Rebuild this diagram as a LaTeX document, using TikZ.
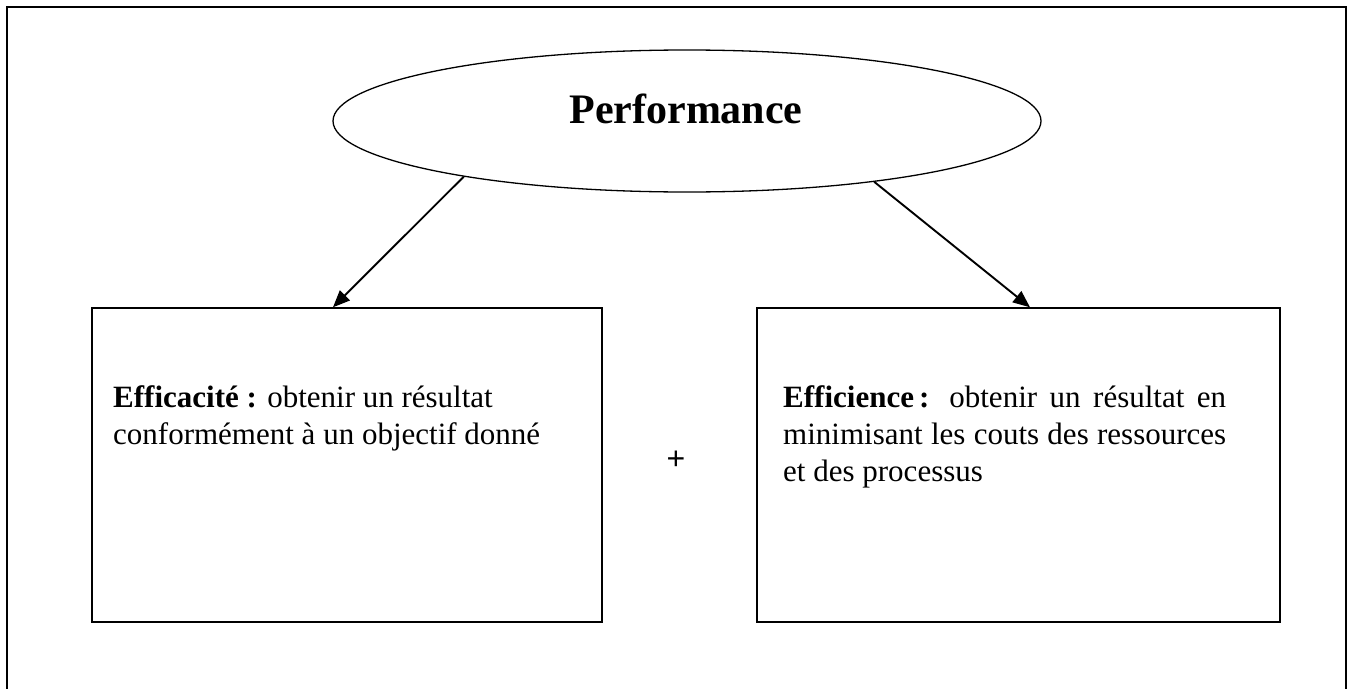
\documentclass[tikz,border=0pt]{standalone}
\usepackage{fontspec}
\setmainfont{Liberation Serif}
\newfontfamily\plusfont{Liberation Sans}
\usetikzlibrary{shapes.geometric,arrows.meta,calc}
\begin{document}
\begin{tikzpicture}[x=1pt,y=-1pt,
  framest/.style={draw=black,line width=2.4pt},
  boxst/.style={draw=black,line width=1.4pt,rectangle,inner sep=0pt},
  ellst/.style={draw=black,line width=1.3pt,ellipse,inner sep=0pt},
  arr/.style={line width=1.9pt,-{Triangle[length=17pt,width=14pt]}},
  bodytext/.style={inner sep=0pt,anchor=base west}]
\useasboundingbox (0,0) rectangle (1351,688);
\draw[framest] (7,7) rectangle (1346,702);
\node[ellst,minimum width=708,minimum height=142] (perf) at (687,121) {};
\node[anchor=base,inner sep=0pt] (perft) at (686,123) {\fontsize{42}{48}\selectfont\bfseries Performance};
\node[boxst,minimum width=510,minimum height=314] (b1) at (347,465) {};
\node[boxst,minimum width=523,minimum height=314] (b2) at (1018.5,465) {};
\node[bodytext] (t1) at (113,407) {\parbox[t]{470pt}{\fontsize{31}{37}\selectfont\raggedright
  \textbf{Efficacité :} obtenir un résultat\\
  conformément à un objectif donné}};
\node[bodytext] (t2) at (783,407) {\parbox[t]{443pt}{\fontsize{31}{37}\selectfont
  \textbf{Efficience\,:} obtenir un résultat en\linebreak
  minimisant les couts des ressources\linebreak
  et des processus}};
\node[inner sep=0pt] (plus) at (676,460) {\fontsize{32}{38}\selectfont\plusfont +};
\draw[arr] (perf.194.4) -- ($(b1.north west)!0.4725!(b1.north east)$);
\draw[arr] (perf.342.9) -- ($(b2.north west)!0.522!(b2.north east)$);
\end{tikzpicture}
\end{document}
